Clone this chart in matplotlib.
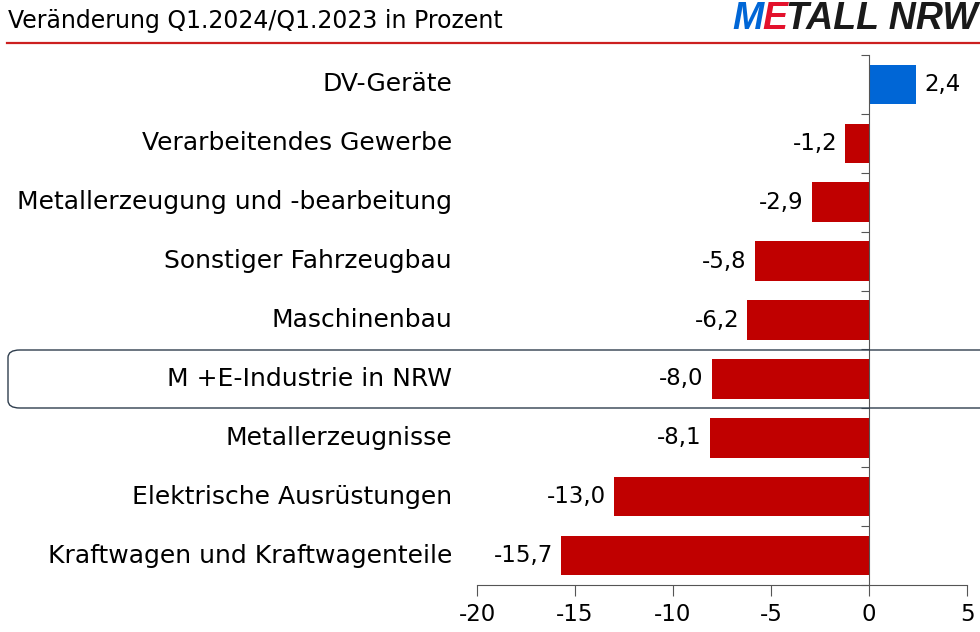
import matplotlib
matplotlib.use("Agg")
import matplotlib.pyplot as plt
import matplotlib.transforms as mtransforms
from matplotlib.patches import FancyBboxPatch
from matplotlib.lines import Line2D

# data, top to bottom as in the chart
branchen = [
    "DV-Geräte",
    "Verarbeitendes Gewerbe",
    "Metallerzeugung und -bearbeitung",
    "Sonstiger Fahrzeugbau",
    "Maschinenbau",
    "M +E-Industrie in NRW",
    "Metallerzeugnisse",
    "Elektrische Ausrüstungen",
    "Kraftwagen und Kraftwagenteile",
]
werte = [2.4, -1.2, -2.9, -5.8, -6.2, -8.0, -8.1, -13.0, -15.7]
x_ticks = [-20, -15, -10, -5, 0, 5]
titel = "Veränderung Q1.2024/Q1.2023 in Prozent"

ROT = "#c00000"
BLAU = "#0066d6"

plt.rcParams['font.family'] = ['DejaVu Sans']

fig = plt.figure(figsize=(9.8, 6.32), dpi=100)
W, H = 980, 632
ax = fig.add_axes([477 / W, 1 - 585 / H, 490 / W, 530 / H])

ypos = list(range(len(werte)))
farben = [BLAU if v > 0 else ROT for v in werte]
ax.barh(ypos, werte, height=0.67, color=farben, zorder=2)
ax.set_ylim(len(werte) - 0.5, -0.5)
ax.set_xlim(-20, 5)

for y, v in zip(ypos, werte):
    txt = f"{v:.1f}".replace(".", ",")
    if v < 0:
        ax.annotate(txt, (v, y), xytext=(-6, 0), textcoords="offset points",
                    ha="right", va="center", fontsize=16.5)
    else:
        ax.annotate(txt, (v, y), xytext=(6, 0), textcoords="offset points",
                    ha="left", va="center", fontsize=16.5)

# category labels left of the plot
trans = mtransforms.blended_transform_factory(ax.transAxes, ax.transData)
for y, name in zip(ypos, branchen):
    ax.text(-0.051, y, name, transform=trans, ha="right", va="center",
            fontsize=18)

# spines
for s in ["top", "right"]:
    ax.spines[s].set_visible(False)
ax.spines["left"].set_position(("data", 0))
ax.spines["left"].set_color("#555555")
ax.spines["left"].set_zorder(3)
ax.spines["bottom"].set_color("#555555")
ax.set_yticks([i - 0.5 for i in range(len(werte) + 1)])
ax.set_yticklabels([])
ax.tick_params(axis="y", direction="out", length=6, color="#555555")
ax.set_xticks(x_ticks)
ax.set_xticklabels([str(t) for t in x_ticks], fontsize=16.5)
ax.tick_params(axis="x", direction="out", length=8, color="#555555", pad=5)

# highlight box for M+E
box = FancyBboxPatch((8 / W, 1 - 408 / H), 1.1, 58 / H,
                     boxstyle="round,pad=0,rounding_size=0.012",
                     transform=fig.transFigure, fill=False,
                     edgecolor="#2f3e4e", linewidth=1.0, clip_on=False)
fig.add_artist(box)

# header
fig.text(8 / W, 1 - 21 / H, titel, ha="left", va="center", fontsize=17)
fig.add_artist(Line2D([7 / W, 1.0], [1 - 43 / H, 1 - 43 / H],
                      transform=fig.transFigure, color="#cc1f1f", linewidth=1.6))

# logo, laid out from the right edge
fig.canvas.draw()
r = fig.canvas.get_renderer()
x0 = 978
for part, col in [("TALL NRW", "#1a1a1a"), ("E", "#e3112c"), ("M", BLAU)]:
    t = fig.text(x0 / W, 1 - 19 / H, part, ha="right", va="center",
                 fontsize=27, fontweight="bold", fontstyle="italic",
                 color=col, family="Liberation Sans")
    bb = t.get_window_extent(renderer=r)
    x0 = bb.x0 + 1

fig.savefig("out.png", dpi=100)
